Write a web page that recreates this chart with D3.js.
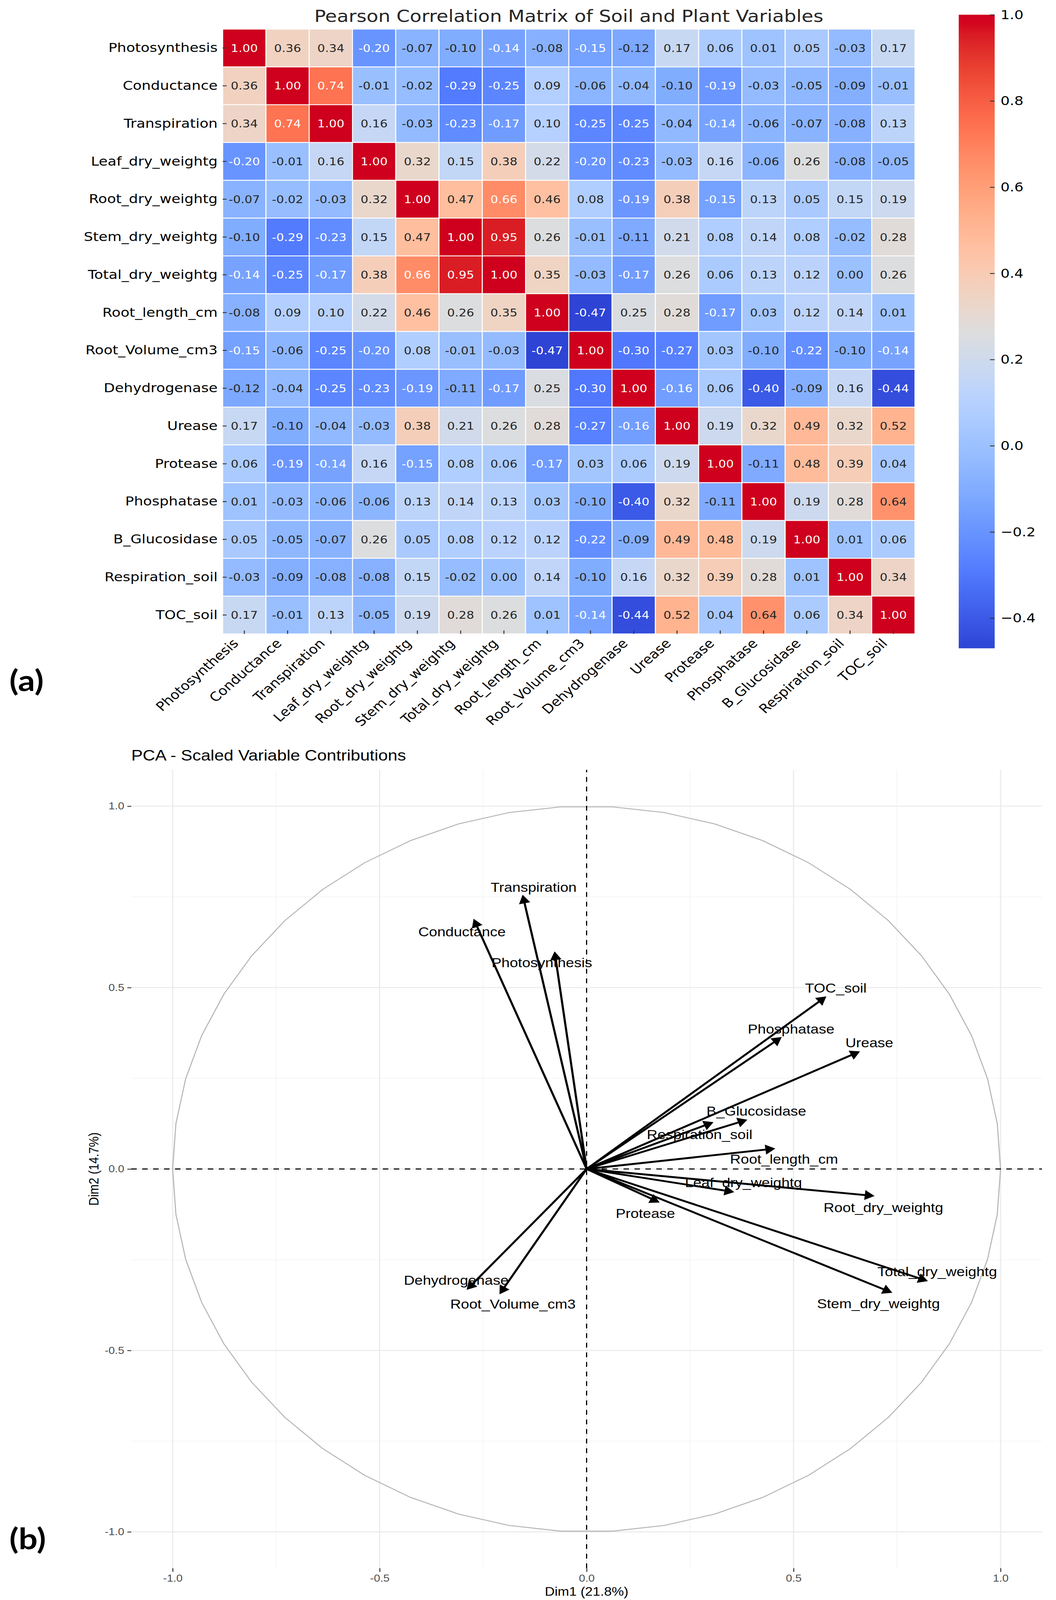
<!DOCTYPE html>
<html>
<head>
<meta charset="utf-8">
<script src="https://cdn.jsdelivr.net/npm/d3@7"></script>
<style>
  html, body { margin: 0; padding: 0; background: #fff; overflow: hidden; }
  svg { display: block; }
</style>
</head>
<body>
<svg id="fig" width="2703" height="4672" viewBox="0 0 2703 4672" preserveAspectRatio="none"></svg>
<script>
// ---- data: correlation matrix (a) ----
const variables = ["Photosynthesis", "Conductance", "Transpiration", "Leaf_dry_weightg",
  "Root_dry_weightg", "Stem_dry_weightg", "Total_dry_weightg", "Root_length_cm",
  "Root_Volume_cm3", "Dehydrogenase", "Urease", "Protease", "Phosphatase",
  "B_Glucosidase", "Respiration_soil", "TOC_soil"];

const corr = [
  [ 1.00, 0.36, 0.34,-0.20,-0.07,-0.10,-0.14,-0.08,-0.15,-0.12, 0.17, 0.06, 0.01, 0.05,-0.03, 0.17],
  [ 0.36, 1.00, 0.74,-0.01,-0.02,-0.29,-0.25, 0.09,-0.06,-0.04,-0.10,-0.19,-0.03,-0.05,-0.09,-0.01],
  [ 0.34, 0.74, 1.00, 0.16,-0.03,-0.23,-0.17, 0.10,-0.25,-0.25,-0.04,-0.14,-0.06,-0.07,-0.08, 0.13],
  [-0.20,-0.01, 0.16, 1.00, 0.32, 0.15, 0.38, 0.22,-0.20,-0.23,-0.03, 0.16,-0.06, 0.26,-0.08,-0.05],
  [-0.07,-0.02,-0.03, 0.32, 1.00, 0.47, 0.66, 0.46, 0.08,-0.19, 0.38,-0.15, 0.13, 0.05, 0.15, 0.19],
  [-0.10,-0.29,-0.23, 0.15, 0.47, 1.00, 0.95, 0.26,-0.01,-0.11, 0.21, 0.08, 0.14, 0.08,-0.02, 0.28],
  [-0.14,-0.25,-0.17, 0.38, 0.66, 0.95, 1.00, 0.35,-0.03,-0.17, 0.26, 0.06, 0.13, 0.12, 0.00, 0.26],
  [-0.08, 0.09, 0.10, 0.22, 0.46, 0.26, 0.35, 1.00,-0.47, 0.25, 0.28,-0.17, 0.03, 0.12, 0.14, 0.01],
  [-0.15,-0.06,-0.25,-0.20, 0.08,-0.01,-0.03,-0.47, 1.00,-0.30,-0.27, 0.03,-0.10,-0.22,-0.10,-0.14],
  [-0.12,-0.04,-0.25,-0.23,-0.19,-0.11,-0.17, 0.25,-0.30, 1.00,-0.16, 0.06,-0.40,-0.09, 0.16,-0.44],
  [ 0.17,-0.10,-0.04,-0.03, 0.38, 0.21, 0.26, 0.28,-0.27,-0.16, 1.00, 0.19, 0.32, 0.49, 0.32, 0.52],
  [ 0.06,-0.19,-0.14, 0.16,-0.15, 0.08, 0.06,-0.17, 0.03, 0.06, 0.19, 1.00,-0.11, 0.48, 0.39, 0.04],
  [ 0.01,-0.03,-0.06,-0.06, 0.13, 0.14, 0.13, 0.03,-0.10,-0.40, 0.32,-0.11, 1.00, 0.19, 0.28, 0.64],
  [ 0.05,-0.05,-0.07, 0.26, 0.05, 0.08, 0.12, 0.12,-0.22,-0.09, 0.49, 0.48, 0.19, 1.00, 0.01, 0.06],
  [-0.03,-0.09,-0.08,-0.08, 0.15,-0.02, 0.00, 0.14,-0.10, 0.16, 0.32, 0.39, 0.28, 0.01, 1.00, 0.34],
  [ 0.17,-0.01, 0.13,-0.05, 0.19, 0.28, 0.26, 0.01,-0.14,-0.44, 0.52, 0.04, 0.64, 0.06, 0.34, 1.00]
];

const cbarTicks = [-0.4, -0.2, 0.0, 0.2, 0.4, 0.6, 0.8, 1.0];

// ---- data: PCA variable loadings (b) ----
const pcaVars = ["Photosynthesis", "Transpiration", "Conductance", "Leaf_dry_weightg",
  "Root_dry_weightg", "Stem_dry_weightg", "Total_dry_weightg", "Root_length_cm",
  "Root_Volume_cm3", "Dehydrogenase", "Urease", "Protease", "Phosphatase",
  "B_Glucosidase", "Respiration_soil", "TOC_soil"];
const dim1 = [-0.077, -0.154, -0.272, 0.354, 0.693, 0.736, 0.822, 0.453,
  -0.209, -0.288, 0.658, 0.174, 0.469, 0.386, 0.304, 0.577];
const dim2 = [0.597, 0.753, 0.687, -0.063, -0.074, -0.340, -0.308, 0.056,
  -0.343, -0.331, 0.323, -0.091, 0.362, 0.135, 0.128, 0.474];
// repelled label positions, in data units
const labelDim1 = [-0.108, -0.128, -0.301, 0.379, 0.717, 0.705, 0.847, 0.477,
  -0.178, -0.315, 0.683, 0.142, 0.494, 0.410, 0.273, 0.602];
const labelDim2 = [0.569, 0.777, 0.654, -0.037, -0.106, -0.371, -0.283, 0.027,
  -0.372, -0.306, 0.348, -0.122, 0.386, 0.160, 0.095, 0.499];
const pcaTicks = [-1.0, -0.5, 0.0, 0.5, 1.0];
const pcaMinor = [-0.75, -0.25, 0.25, 0.75];

// matplotlib coolwarm lookup table
const coolwarmTable = [
  [0.2298057,0.298717966,0.753683153],[0.26623388,0.353094838,0.801466763],
  [0.30386891,0.406535296,0.84495867],[0.342804478,0.458757618,0.883725899],
  [0.38301334,0.50941904,0.917387822],[0.424369608,0.558148092,0.945619588],
  [0.46666708,0.604562568,0.968154911],[0.509635204,0.648280772,0.98478814],
  [0.552953156,0.688929332,0.995375608],[0.596262162,0.726149107,0.999836203],
  [0.639176211,0.759599947,0.998151185],[0.681291281,0.788964712,0.990363227],
  [0.722193294,0.813952739,0.976574709],[0.761464949,0.834302879,0.956945269],
  [0.798691636,0.849786142,0.931688648],[0.833466556,0.860207984,0.901068838],
  [0.865395197,0.86541021,0.865395561],[0.897787179,0.848937047,0.820880546],
  [0.924127593,0.827384882,0.774508472],[0.944468518,0.800927443,0.726736146],
  [0.958852946,0.769767752,0.678007945],[0.96732803,0.734132809,0.628751763],
  [0.969954137,0.694266682,0.579375448],[0.966811177,0.650421156,0.530263762],
  [0.958003065,0.602842431,0.481775914],[0.943660866,0.551750968,0.434243684],
  [0.923944917,0.49730856,0.387970225],[0.89904617,0.439559467,0.343229596],
  [0.869186849,0.378313092,0.300267182],[0.834620542,0.312874446,0.259301199],
  [0.795631745,0.24128379,0.220525627],[0.752534934,0.157246067,0.184115123],
  [0.705673158,0.01555616,0.150232812]
];

function coolwarm(t) {
  t = Math.max(0, Math.min(1, t));
  const p = t * (coolwarmTable.length - 1), i = Math.min(Math.floor(p), coolwarmTable.length - 2), f = p - i;
  return coolwarmTable[i].map((c, k) => c + (coolwarmTable[i + 1][k] - c) * f);
}
// the printed figure is a bit more saturated than the raw colormap
function boosted(rgb) {
  const m = (rgb[0] + rgb[1] + rgb[2]) / 3;
  const c = rgb.map(v => Math.round(255 * Math.max(0, Math.min(1, m + 1.25 * (v - m)))));
  return `rgb(${c[0]},${c[1]},${c[2]})`;
}
// seaborn's annotation colour rule
function annotColor(rgb) {
  const lin = rgb.map(v => v <= 0.03928 ? v / 12.92 : Math.pow((v + 0.055) / 1.055, 2.4));
  const lum = 0.2126 * lin[0] + 0.7152 * lin[1] + 0.0722 * lin[2];
  return lum > 0.408 ? "#262626" : "#ffffff";
}

// the figure is laid out on a 2703x4672 canvas; squeeze it into the window if it is shorter
const svg = d3.select("#fig")
  .attr("height", Math.min(4672, window.innerHeight || 4672));
svg.append("rect").attr("width", 2703).attr("height", 4672).attr("fill", "#fff");

// =================== (a) heatmap ===================
const hfont = "DejaVu Sans, sans-serif";
const hx = d3.scaleBand().domain(variables).range([570, 2342]);
const hy = d3.scaleBand().domain(variables).range([85, 1851]);
const vmin = d3.min(corr.flat()), vmax = 1.0;
const norm = d3.scaleLinear().domain([vmin, vmax]).range([0, 1]).clamp(true);

const cells = [];
corr.forEach((row, i) => row.forEach((v, j) => cells.push({ r: variables[i], c: variables[j], v })));

const hm = svg.append("g");
hm.selectAll("rect.cell").data(cells).join("rect")
  .attr("class", "cell")
  .attr("x", d => hx(d.c)).attr("y", d => hy(d.r))
  .attr("width", hx.bandwidth()).attr("height", hy.bandwidth())
  .attr("fill", d => boosted(coolwarm(norm(d.v))))
  .attr("stroke", "#fff").attr("stroke-width", 2.5);

hm.selectAll("text.annot").data(cells).join("text")
  .attr("class", "annot")
  .attr("x", d => hx(d.c) + hx.bandwidth() / 2)
  .attr("y", d => hy(d.r) + hy.bandwidth() / 2)
  .attr("dy", "0.36em")
  .attr("text-anchor", "middle")
  .attr("font-family", hfont).attr("font-size", 31)
  .attr("fill", d => annotColor(coolwarm(norm(d.v))))
  .text(d => d.v.toFixed(2));

// y axis (ticks drawn inward)
const yAx = svg.append("g").attr("transform", "translate(570,0)")
  .call(d3.axisLeft(hy).tickSize(-10).tickPadding(13));
yAx.attr("font-family", hfont).attr("font-size", 37);
yAx.select(".domain").remove();
yAx.selectAll("line").attr("stroke", "#333").attr("stroke-width", 2.5);
yAx.selectAll("text").attr("fill", "#000");

// x axis, labels rotated 45°
const xAx = svg.append("g").attr("transform", "translate(0,1851)")
  .call(d3.axisBottom(hx).tickSize(-10));
xAx.attr("font-family", hfont).attr("font-size", 37);
xAx.select(".domain").remove();
xAx.selectAll("line").attr("stroke", "#333").attr("stroke-width", 2.5);
xAx.selectAll("text")
  .attr("fill", "#000")
  .attr("x", 0).attr("y", 0).attr("dy", null)
  .attr("text-anchor", "end")
  .attr("transform", "translate(-13,30) rotate(-45)");

// colour bar
const cb = d3.scaleLinear().domain([vmin, vmax]).range([1893, 43]);
const grad = svg.append("defs").append("linearGradient")
  .attr("id", "cbgrad").attr("x1", 0).attr("y1", 1).attr("x2", 0).attr("y2", 0);
grad.selectAll("stop").data(d3.range(0, 65)).join("stop")
  .attr("offset", d => d / 64)
  .attr("stop-color", d => boosted(coolwarm(d / 64)));
svg.append("rect").attr("x", 2454).attr("y", cb(vmax))
  .attr("width", 92).attr("height", cb(vmin) - cb(vmax))
  .attr("fill", "url(#cbgrad)");
const cAx = svg.append("g").attr("transform", "translate(2546,0)")
  .call(d3.axisRight(cb).tickValues(cbarTicks).tickSize(-12).tickPadding(15)
    .tickFormat(d3.format(".1f")));
cAx.attr("font-family", hfont).attr("font-size", 37);
cAx.select(".domain").remove();
cAx.selectAll("line").attr("stroke", "#333").attr("stroke-width", 2.5);
cAx.selectAll("text").attr("fill", "#000");

svg.append("text")
  .attr("x", (570 + 2342) / 2).attr("y", 64)
  .attr("text-anchor", "middle")
  .attr("font-family", hfont).attr("font-size", 49).attr("fill", "#262626")
  .text("Pearson Correlation Matrix of Soil and Plant Variables");

svg.append("text").attr("x", 24).attr("y", 2018)
  .attr("font-family", "Lato, sans-serif").attr("font-weight", "bold").attr("font-size", 86)
  .text("(a)");

// =================== (b) PCA correlation circle ===================
const pfont = "Liberation Sans, Arial, sans-serif";
const px = d3.scaleLinear().domain([-1.1, 1.1]).range([336, 2667]);
const py = d3.scaleLinear().domain([-1.1, 1.1]).range([4579, 2248]);
const pca = svg.append("g");

pca.selectAll("line.minorx").data(pcaMinor).join("line")
  .attr("x1", d => px(d)).attr("x2", d => px(d)).attr("y1", py(-1.1)).attr("y2", py(1.1))
  .attr("stroke", "#f2f2f2").attr("stroke-width", 1.6);
pca.selectAll("line.minory").data(pcaMinor).join("line")
  .attr("y1", d => py(d)).attr("y2", d => py(d)).attr("x1", px(-1.1)).attr("x2", px(1.1))
  .attr("stroke", "#f2f2f2").attr("stroke-width", 1.6);
pca.selectAll("line.majorx").data(pcaTicks).join("line")
  .attr("x1", d => px(d)).attr("x2", d => px(d)).attr("y1", py(-1.1)).attr("y2", py(1.1))
  .attr("stroke", "#ebebeb").attr("stroke-width", 3);
pca.selectAll("line.majory").data(pcaTicks).join("line")
  .attr("y1", d => py(d)).attr("y2", d => py(d)).attr("x1", px(-1.1)).attr("x2", px(1.1))
  .attr("stroke", "#ebebeb").attr("stroke-width", 3);

// unit circle
const circ = d3.range(0, 51).map(i => [Math.cos(2 * Math.PI * i / 50), Math.sin(2 * Math.PI * i / 50)]);
pca.append("path")
  .attr("d", d3.line().x(d => px(d[0])).y(d => py(d[1]))(circ))
  .attr("fill", "none").attr("stroke", "#b3b3b3").attr("stroke-width", 2.6);

// reference lines
pca.append("line").attr("x1", px(0)).attr("x2", px(0)).attr("y1", py(-1.1)).attr("y2", py(1.1))
  .attr("stroke", "#000").attr("stroke-width", 3).attr("stroke-dasharray", "14,14");
pca.append("line").attr("y1", py(0)).attr("y2", py(0)).attr("x1", px(-1.1)).attr("x2", px(1.1))
  .attr("stroke", "#000").attr("stroke-width", 3).attr("stroke-dasharray", "14,14");

// arrows
const arrows = pcaVars.map((name, i) => ({ name, x: dim1[i], y: dim2[i], lx: labelDim1[i], ly: labelDim2[i] }));
arrows.forEach(a => {
  const x0 = px(0), y0 = py(0), x1 = px(a.x), y1 = py(a.y);
  const th = Math.atan2(y1 - y0, x1 - x0);
  const hl = 24, ha = Math.PI / 6;
  pca.append("line")
    .attr("x1", x0).attr("y1", y0)
    .attr("x2", x1 - 14 * Math.cos(th)).attr("y2", y1 - 14 * Math.sin(th))
    .attr("stroke", "#000").attr("stroke-width", 5.5);
  const head = [[x1, y1],
    [x1 - hl * Math.cos(th - ha), y1 - hl * Math.sin(th - ha)],
    [x1 - hl * Math.cos(th + ha), y1 - hl * Math.sin(th + ha)]];
  pca.append("polygon").attr("points", head.map(p => p.join(",")).join(" "))
    .attr("fill", "#000").attr("stroke", "#000").attr("stroke-width", 3)
    .attr("stroke-linejoin", "miter");
});
pca.selectAll("text.vlab").data(arrows).join("text")
  .attr("class", "vlab")
  .attr("x", d => px(d.lx)).attr("y", d => py(d.ly))
  .attr("dy", "0.35em").attr("text-anchor", "middle")
  .attr("font-family", pfont).attr("font-size", 38).attr("fill", "#000")
  .text(d => d.name);

// axes
const fmt1 = d => d.toFixed(1);
const pyAx = svg.append("g").attr("transform", `translate(${px(-1.1)},0)`)
  .call(d3.axisLeft(py).tickValues(pcaTicks).tickSize(10).tickPadding(8).tickFormat(fmt1));
const pxAx = svg.append("g").attr("transform", `translate(0,${py(-1.1)})`)
  .call(d3.axisBottom(px).tickValues(pcaTicks).tickSize(11).tickPadding(8).tickFormat(fmt1));
[pyAx, pxAx].forEach(ax => {
  ax.attr("font-family", pfont).attr("font-size", 29);
  ax.select(".domain").remove();
  ax.selectAll("line").attr("stroke", "#333").attr("stroke-width", 2.5);
  ax.selectAll("text").attr("fill", "#4d4d4d");
});

svg.append("text").attr("x", (px(-1.1) + px(1.1)) / 2).attr("y", 4659)
  .attr("text-anchor", "middle").attr("font-family", pfont).attr("font-size", 35).attr("fill", "#000")
  .text("Dim1 (21.8%)");
svg.append("text")
  .attr("transform", `translate(252,${(py(-1.1) + py(1.1)) / 2}) rotate(-90)`)
  .attr("text-anchor", "middle").attr("font-family", pfont).attr("font-size", 35).attr("fill", "#000")
  .text("Dim2 (14.7%)");
svg.append("text").attr("x", px(-1.1)).attr("y", 2221)
  .attr("font-family", pfont).attr("font-size", 44).attr("fill", "#000")
  .text("PCA - Scaled Variable Contributions");

svg.append("text").attr("x", 24).attr("y", 4524)
  .attr("font-family", "Lato, sans-serif").attr("font-weight", "bold").attr("font-size", 86)
  .text("(b)");
</script>
</body>
</html>
